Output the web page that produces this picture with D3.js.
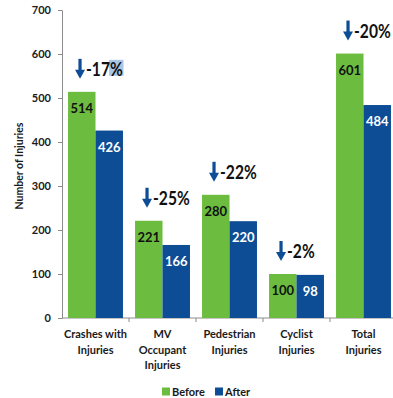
<!DOCTYPE html>
<html>
<head>
<meta charset="utf-8">
<script src="https://cdn.jsdelivr.net/npm/d3@7"></script>
<style>
  html, body { margin: 0; padding: 0; background: #fff; }
  svg { display: block; }
</style>
</head>
<body>
<svg id="chart" width="393" height="398"></svg>
<script>
// Injury counts before and after, by category
const categories = [
  ["Crashes with", "Injuries"],
  ["MV", "Occupant", "Injuries"],
  ["Pedestrian", "Injuries"],
  ["Cyclist", "Injuries"],
  ["Total", "Injuries"]
];
const before = [514, 221, 280, 100, 601];
const after = [426, 166, 220, 98, 484];
const changes = ["-17%", "-25%", "-22%", "-2%", "-20%"];
const yTicks = [0, 100, 200, 300, 400, 500, 600, 700];
const seriesNames = ["Before", "After"];

const GREEN = "#6cbd3f";
const BLUE = "#0c4d96";
const TEXT = "#1a1a1a";
const FONT = "Lato, 'Open Sans', sans-serif";

const svg = d3.select("#chart");
const margin = { left: 62, top: 10, right: 397, bottom: 318 };

const y = d3.scaleLinear().domain([0, 700]).range([margin.bottom, margin.top]);
const x0 = d3.scaleBand().domain(d3.range(categories.length))
  .range([margin.left, margin.right]).paddingInner(0.18).paddingOuter(0.09);
const x1 = d3.scaleBand().domain(seriesNames).range([0, x0.bandwidth()]);
const color = d3.scaleOrdinal().domain(seriesNames).range([GREEN, BLUE]);

// Y axis
const yAxis = svg.append("g")
  .attr("transform", `translate(${margin.left},0)`)
  .call(d3.axisLeft(y).tickValues(yTicks).tickSize(4).tickPadding(7));
yAxis.select(".domain").attr("stroke", "#8c8c8c");
yAxis.selectAll(".tick line").attr("stroke", "#8c8c8c");
yAxis.selectAll(".tick text")
  .attr("font-family", FONT).attr("font-weight", 700)
  .attr("font-size", 11).attr("fill", TEXT);

// X axis line with ticks between categories
const step = x0.step();
const boundaries = d3.range(1, categories.length).map(i => x0(i) - x0.paddingInner() * step / 2);
svg.append("line")
  .attr("x1", margin.left).attr("x2", margin.right)
  .attr("y1", y(0)).attr("y2", y(0))
  .attr("stroke", "#8c8c8c");
svg.selectAll(".xtick").data(boundaries).enter().append("line")
  .attr("x1", d => d).attr("x2", d => d)
  .attr("y1", y(0)).attr("y2", y(0) + 4)
  .attr("stroke", "#8c8c8c");

// Y axis title
svg.append("text")
  .attr("transform", `translate(23,${(y(0) + y(700)) / 2 + 2}) rotate(-90)`)
  .attr("text-anchor", "middle")
  .attr("font-family", FONT).attr("font-weight", 700).attr("font-size", 10.5)
  .attr("fill", TEXT)
  .text("Number of Injuries");

// Bars
const rows = categories.map((c, i) => ({ i, values: [
  { key: "Before", v: before[i] },
  { key: "After", v: after[i] }
]}));

const groups = svg.selectAll(".grp").data(rows).enter().append("g")
  .attr("transform", d => `translate(${x0(d.i)},0)`);

groups.selectAll("rect").data(d => d.values).enter().append("rect")
  .attr("x", d => x1(d.key))
  .attr("y", d => y(d.v))
  .attr("width", x1.bandwidth())
  .attr("height", d => y(0) - y(d.v))
  .attr("fill", d => color(d.key));

groups.selectAll(".val").data(d => d.values).enter().append("text")
  .attr("x", d => x1(d.key) + x1.bandwidth() / 2)
  .attr("y", d => y(d.v) + 21)
  .attr("text-anchor", "middle")
  .attr("font-family", FONT).attr("font-weight", 700).attr("font-size", 13)
  .attr("fill", d => d.key === "Before" ? "#111" : "#fff")
  .text(d => d.v);

// Change annotations: down arrow and percentage above each pair
rows.forEach(r => {
  const gx = x0(r.i) + x1("Before");
  const top = y(before[r.i]);
  const ax = gx + 12;
  const cy = top - 23;
  const a = svg.append("g");
  a.append("rect")
    .attr("x", ax - 1.6).attr("y", cy - 10)
    .attr("width", 3.2).attr("height", 12)
    .attr("fill", BLUE);
  a.append("path")
    .attr("d", `M${ax - 5},${cy + 1} L${ax + 5},${cy + 1} L${ax},${cy + 10} Z`)
    .attr("fill", BLUE);
  // condensed label
  const lab = a.append("g")
    .attr("transform", `translate(${ax + 6},${cy + 7}) scale(0.8,1)`);
  const t = lab.append("text")
    .attr("x", 0).attr("y", 0)
    .attr("font-family", FONT).attr("font-weight", 700).attr("font-size", 19.5)
    .attr("fill", "#111")
    .text(changes[r.i]);
  if (r.i === 0) {
    // highlighted percent sign
    const bb = t.node().getBBox();
    lab.insert("rect", "text")
      .attr("x", bb.x + bb.width - 17).attr("y", -16)
      .attr("width", 18).attr("height", 16)
      .attr("fill", "#a9c6e6");
  }
});

// X category labels
categories.forEach((lines, i) => {
  const t = svg.append("text")
    .attr("x", x0(i) + x0.bandwidth() / 2)
    .attr("y", 338)
    .attr("text-anchor", "middle")
    .attr("font-family", FONT).attr("font-weight", 700).attr("font-size", 11)
    .attr("fill", TEXT);
  lines.forEach((ln, k) => {
    t.append("tspan").attr("x", x0(i) + x0.bandwidth() / 2)
      .attr("dy", k === 0 ? 0 : 15.5).text(ln);
  });
});

// Legend
const legend = svg.append("g").attr("transform", "translate(162,392)");
const items = legend.selectAll("g").data(seriesNames).enter().append("g")
  .attr("transform", (d, i) => `translate(${i * 53},0)`);
items.append("rect")
  .attr("x", 0).attr("y", -4.5).attr("width", 8).attr("height", 8)
  .attr("fill", d => color(d));
items.append("text")
  .attr("x", 10).attr("y", 4)
  .attr("font-family", FONT).attr("font-weight", 700).attr("font-size", 11)
  .attr("fill", TEXT)
  .text(d => d);
</script>
</body>
</html>
